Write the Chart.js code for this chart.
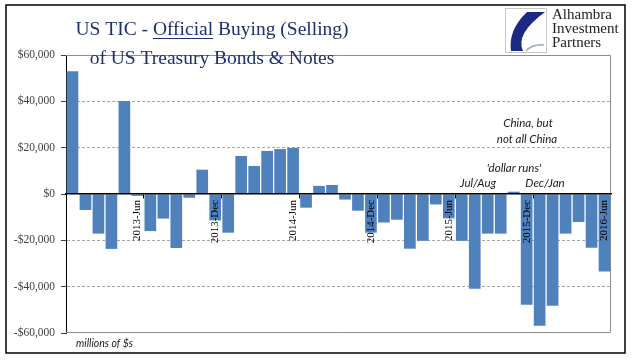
<!DOCTYPE html>
<html>
<head>
<meta charset="utf-8">
<script src="https://cdn.jsdelivr.net/npm/chart.js@4.4.1/dist/chart.umd.min.js"></script>
<style>
  html, body { margin: 0; padding: 0; background: #fff; }
  #chart { display: block; }
</style>
</head>
<body>
<canvas id="chart" width="641" height="361"></canvas>
<script>
// monthly categories, 2013-Jan .. 2016-Jun
const months = [
    '2013-Jan', '2013-Feb', '2013-Mar', '2013-Apr', '2013-May', '2013-Jun',
    '2013-Jul', '2013-Aug', '2013-Sep', '2013-Oct', '2013-Nov', '2013-Dec',
    '2014-Jan', '2014-Feb', '2014-Mar', '2014-Apr', '2014-May', '2014-Jun',
    '2014-Jul', '2014-Aug', '2014-Sep', '2014-Oct', '2014-Nov', '2014-Dec',
    '2015-Jan', '2015-Feb', '2015-Mar', '2015-Apr', '2015-May', '2015-Jun',
    '2015-Jul', '2015-Aug', '2015-Sep', '2015-Oct', '2015-Nov', '2015-Dec',
    '2016-Jan', '2016-Feb', '2016-Mar', '2016-Apr', '2016-May', '2016-Jun'
];

// official buying (selling), millions of $
const buying = [
    53000, -6900, -17100, -23700, 40100, -800,
    -16000, -10600, -23300, -1600, 10500, -11400,
    -16700, 16400, 12100, 18600, 19400, 19900,
    -5900, 3500, 3900, -2400, -7200, -16700,
    -12300, -11100, -23600, -20200, -4500, -10500,
    -20200, -40900, -17100, -17100, 1000, -47800,
    -56900, -48200, -17100, -12100, -23200, -33400
];

const tickLabels = ['2013-Jun', '2013-Dec', '2014-Jun', '2014-Dec', '2015-Jun', '2015-Dec', '2016-Jun'];
const yTicks = [-60000, -40000, -20000, 0, 20000, 40000, 60000];

const titleLines = ['US TIC - Official Buying (Selling)', 'of US Treasury Bonds & Notes'];
const logoLines = ['Alhambra', 'Investment', 'Partners'];
const unitNote = 'millions of $s';

const NAVY = '#1f2f6e';
const BAR = '#4f81bd';

function money(v) {
    return (v < 0 ? '-' : '') + '$' + Math.abs(v).toLocaleString('en-US');
}

const decor = {
    id: 'decor',
    beforeDatasetsDraw(chart) {
        const { ctx, chartArea: a } = chart;
        ctx.save();
        ctx.strokeStyle = '#8c8c8c';
        ctx.lineWidth = 1;
        ctx.beginPath();
        ctx.moveTo(a.left, a.top + 0.5);
        ctx.lineTo(a.right - 0.5, a.top + 0.5);
        ctx.lineTo(a.right - 0.5, a.bottom - 0.5);
        ctx.lineTo(a.left, a.bottom - 0.5);
        ctx.stroke();
        ctx.restore();
    },
    afterDraw(chart) {
        const ctx = chart.ctx;
        ctx.save();

        // outer frame
        ctx.strokeStyle = '#000';
        ctx.lineWidth = 1.5;
        ctx.strokeRect(6, 5, 619, 348);

        // title
        ctx.fillStyle = NAVY;
        ctx.font = '19.5px "Liberation Serif", serif';
        ctx.textAlign = 'left';
        ctx.textBaseline = 'alphabetic';
        const cx = 212;
        const w1 = ctx.measureText(titleLines[0]).width;
        const x1 = cx - w1 / 2;
        ctx.fillText(titleLines[0], x1, 35);
        const pre = ctx.measureText('US TIC - ').width;
        const word = ctx.measureText('Official').width;
        ctx.strokeStyle = NAVY;
        ctx.lineWidth = 1;
        ctx.beginPath();
        ctx.moveTo(x1 + pre, 38.5);
        ctx.lineTo(x1 + pre + word, 38.5);
        ctx.stroke();
        ctx.textAlign = 'center';
        ctx.fillText(titleLines[1], cx, 64);

        // logo
        ctx.strokeStyle = '#c8c8c8';
        ctx.lineWidth = 1;
        ctx.strokeRect(505.5, 8.5, 41, 44);
        ctx.fillStyle = '#1b2a80';
        ctx.beginPath();
        ctx.moveTo(545, 12);
        ctx.lineTo(527, 12);
        ctx.quadraticCurveTo(508, 30, 511, 51);
        ctx.lineTo(523, 51);
        ctx.quadraticCurveTo(515, 34, 545, 12);
        ctx.closePath();
        ctx.fill();
        ctx.strokeStyle = '#9fb0c8';
        ctx.lineWidth = 1.5;
        ctx.beginPath();
        ctx.moveTo(526, 51);
        ctx.quadraticCurveTo(532, 44, 544, 45);
        ctx.stroke();

        ctx.fillStyle = '#222';
        ctx.font = '15px "Liberation Serif", serif';
        ctx.textAlign = 'left';
        logoLines.forEach((t, i) => ctx.fillText(t, 552, 19 + i * 14));

        // annotations
        ctx.fillStyle = '#1a1a1a';
        ctx.font = 'italic 11.5px Lato, sans-serif';
        ctx.textAlign = 'center';
        ctx.textBaseline = 'middle';
        ctx.fillText('China, but', 528, 123);
        ctx.fillText('not all China', 527, 139);
        ctx.fillText("'dollar runs'", 514, 168);
        ctx.fillText('Jul/Aug', 478, 183);
        ctx.fillText('Dec/Jan', 545, 183);

        ctx.font = 'italic 10.5px Lato, sans-serif';
        ctx.textAlign = 'left';
        ctx.fillText(unitNote, 76, 344);

        ctx.restore();
    }
};

new Chart(document.getElementById('chart').getContext('2d'), {
    type: 'bar',
    data: {
        labels: months,
        datasets: [{
            data: buying,
            backgroundColor: BAR,
            borderWidth: 0,
            barPercentage: 0.9,
            categoryPercentage: 1.0
        }]
    },
    options: {
        responsive: false,
        animation: false,
        devicePixelRatio: 1,
        layout: { padding: { left: 0, top: 55, right: 30, bottom: 28 } },
        plugins: {
            legend: { display: false },
            tooltip: { enabled: false }
        },
        scales: {
            x: {
                position: { y: 0 },
                offset: true,
                grid: {
                    offset: true,
                    drawOnChartArea: false,
                    drawTicks: true,
                    tickLength: 4,
                    z: 1,
                    tickColor: (c) => (c.index !== undefined && c.index > 0 && c.index % 6 === 0) ? '#000' : 'rgba(0,0,0,0)'
                },
                border: { display: true, color: '#000', width: 1.5, z: 1 },
                ticks: {
                    z: 1,
                    autoSkip: false,
                    minRotation: 90,
                    maxRotation: 90,
                    padding: 2,
                    color: '#000',
                    font: { family: '"Liberation Serif", serif', size: 11 },
                    callback: function(value, index) {
                        const m = months[index];
                        return tickLabels.includes(m) ? m : '';
                    }
                }
            },
            y: {
                min: -60000,
                max: 60000,
                afterFit: (s) => { s.width = 66; },
                afterBuildTicks: (s) => { s.ticks = yTicks.map(v => ({ value: v })); },
                grid: {
                    color: (c) => (c.tick && (c.tick.value === 0 || Math.abs(c.tick.value) === 60000)) ? 'rgba(0,0,0,0)' : '#a6a6a6',
                    tickColor: '#404040',
                    tickLength: 5,
                    tickBorderDash: []
                },
                border: { display: true, color: '#000', width: 1, dash: [3, 2] },
                ticks: {
                    padding: 6,
                    color: '#404040',
                    font: { family: '"Liberation Serif", serif', size: 11.5 },
                    callback: (v) => money(v)
                }
            }
        }
    },
    plugins: [decor]
});
</script>
</body>
</html>
